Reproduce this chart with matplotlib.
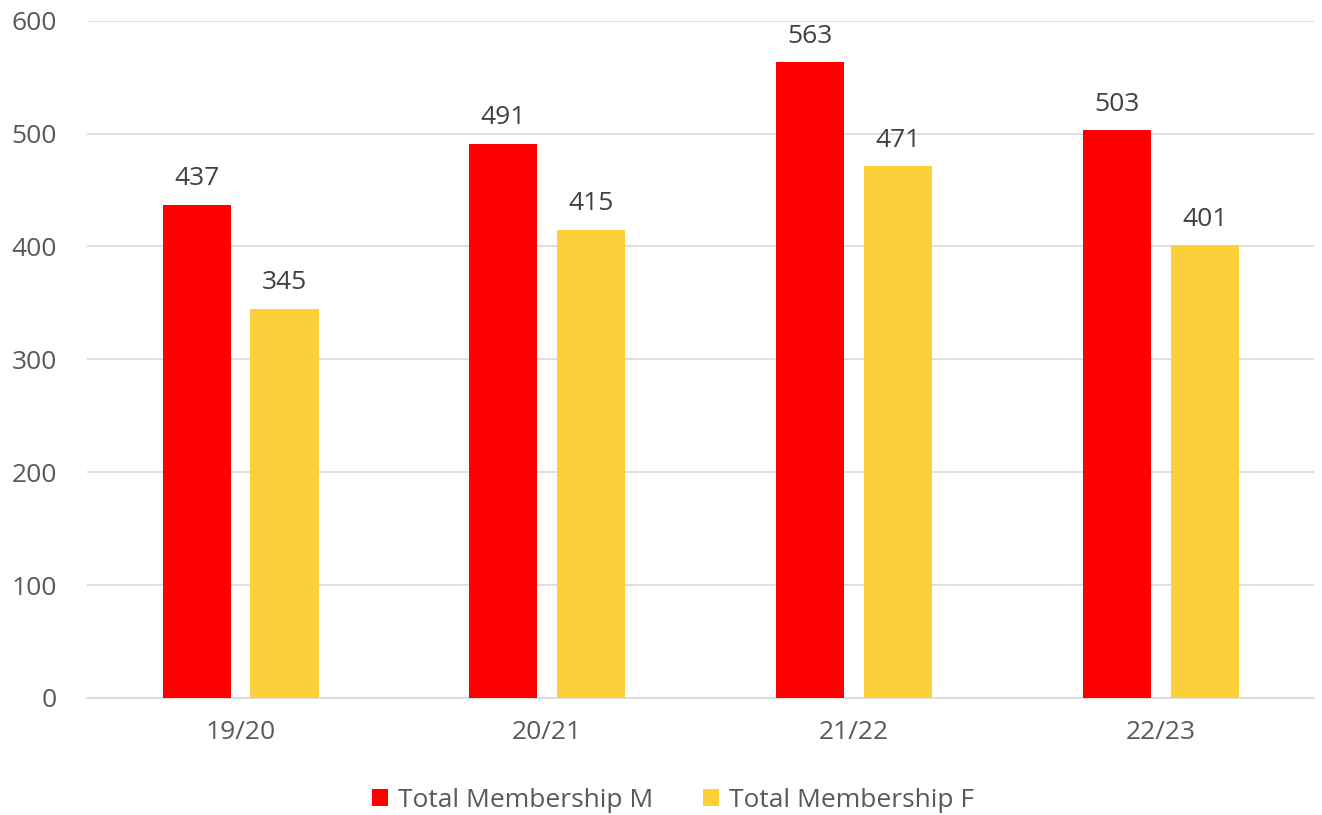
import numpy as np
import matplotlib.pyplot as plt

seasons = ['19/20', '20/21', '21/22', '22/23']
members_m = [437, 491, 563, 503]
members_f = [345, 415, 471, 401]

red = '#FF0000'
yellow = '#FDCF3A'
grey_txt = '#595959'

plt.rcParams['font.family'] = ['Open Sans', 'DejaVu Sans']

fig = plt.figure(figsize=(13.22, 8.15), dpi=100)
ax = fig.add_axes([0.066, 0.1436, 0.928, 0.831])

x = np.arange(len(seasons))
w = 0.222
off = 0.143
bm = ax.bar(x - off, members_m, w, color=red, label='Total Membership M', zorder=3)
bf = ax.bar(x + off, members_f, w, color=yellow, label='Total Membership F', zorder=3)

for bars in (bm, bf):
    for b in bars:
        ax.text(b.get_x() + b.get_width() / 2, b.get_height() + 12, str(int(b.get_height())),
                ha='center', va='bottom', fontsize=19, color='#404040')

ax.set_xlim(-0.5, 3.5)
ax.set_ylim(0, 600)
ax.set_yticks(np.arange(0, 601, 100))
ax.set_xticks(x)
ax.set_xticklabels(seasons)
ax.yaxis.grid(True, color='#D9D9D9', linewidth=1.2, zorder=0)
for s in ['top', 'right', 'left']:
    ax.spines[s].set_visible(False)
ax.spines['bottom'].set_color('#D9D9D9')
ax.spines['bottom'].set_linewidth(1.2)
ax.tick_params(axis='both', length=0, labelsize=19, colors=grey_txt)
ax.tick_params(axis='x', pad=16)
ax.tick_params(axis='y', pad=22)

leg = fig.legend(handles=[bm, bf], loc='center', bbox_to_anchor=(0.509, 0.018), ncol=2,
                 frameon=False, fontsize=19, handlelength=0.62, handleheight=0.62,
                 handletextpad=0.35, columnspacing=1.9, borderpad=0, borderaxespad=0)
for t in leg.get_texts():
    t.set_color(grey_txt)

fig.savefig('out.png', dpi=100)
